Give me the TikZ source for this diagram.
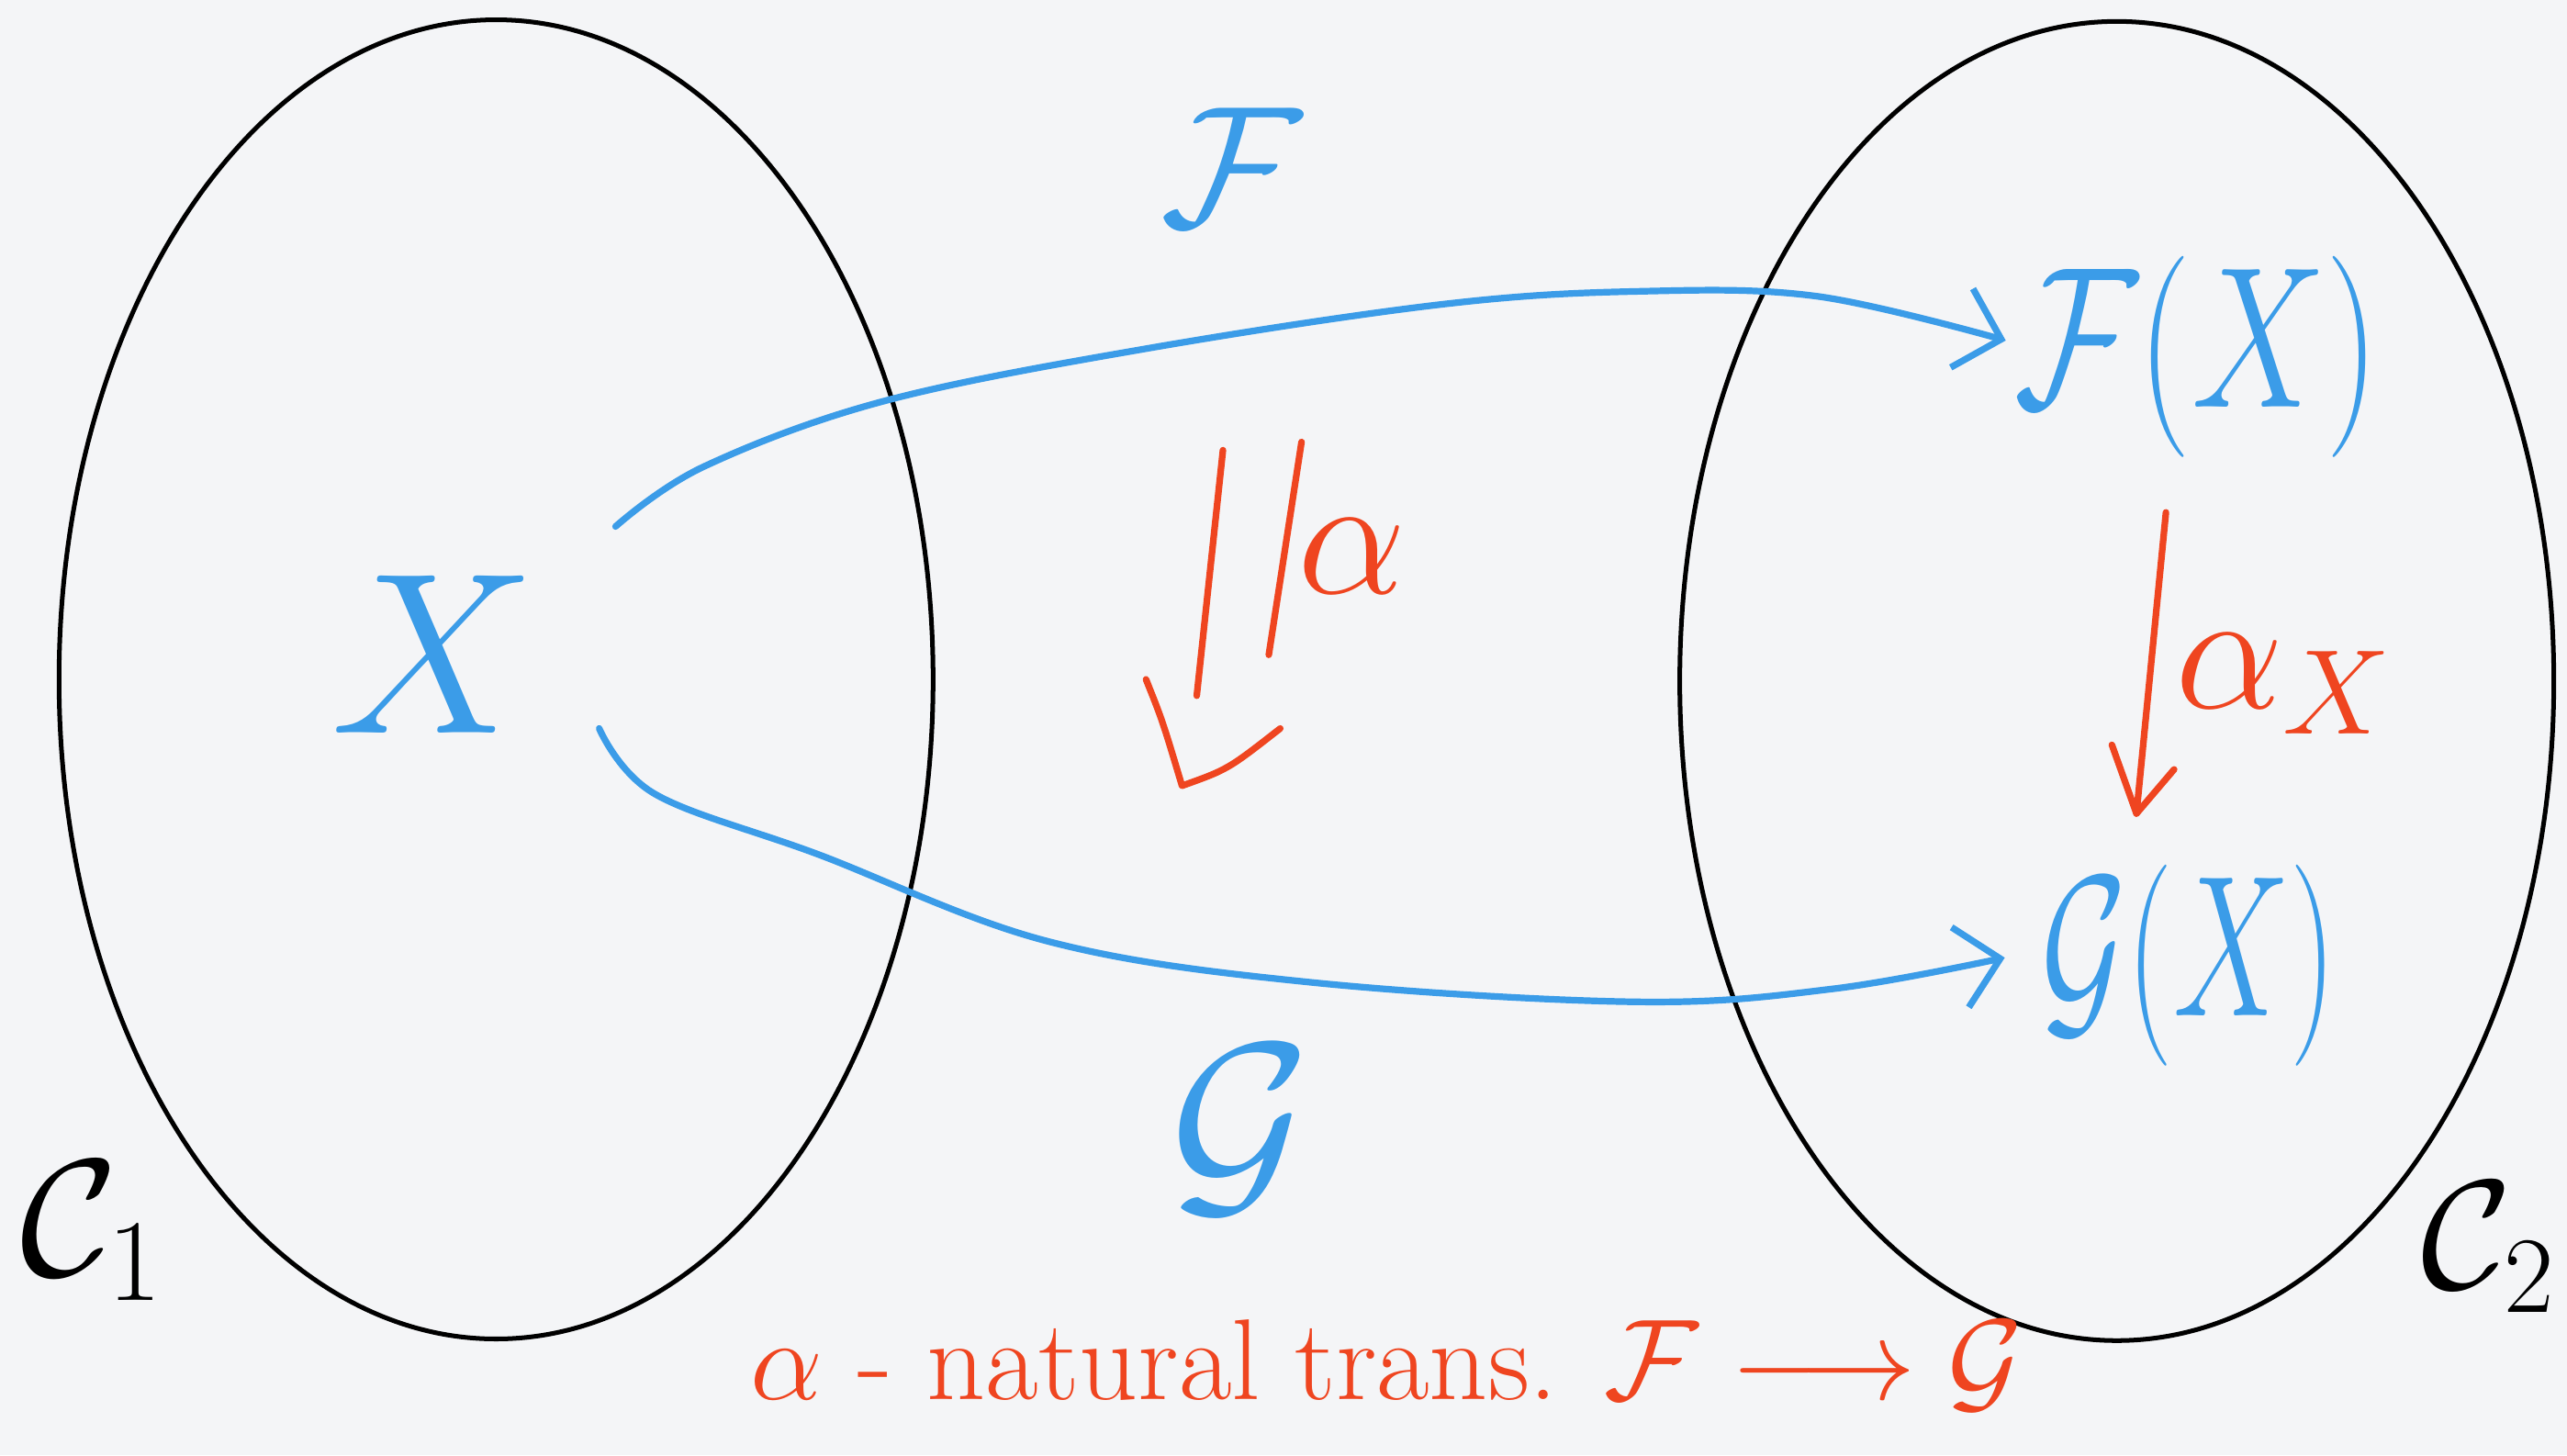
\RequirePackage{fix-cm}
\documentclass[tikz,border=0pt]{standalone}
\usepackage{graphicx}
\usetikzlibrary{arrows.meta,shapes.geometric}
\definecolor{bg}{HTML}{F4F5F7}
\definecolor{hblue}{HTML}{3B9CE8}
\definecolor{hred}{HTML}{EF4520}
\begin{document}
\begin{tikzpicture}[x=0.02cm,y=-0.02cm,
  setbox/.style={draw=black, line width=1.6pt, ellipse, inner sep=0pt,
    minimum width=10.68cm, minimum height=16.12cm},
  bluetxt/.style={text=hblue, inner sep=0pt},
  redtxt/.style={text=hred, inner sep=0pt},
  blacktxt/.style={text=black, inner sep=0pt},
  bluearr/.style={draw=hblue, line width=2.3pt, line cap=round,
    -{Straight Barb[length=0.5cm,width=1.0cm]}},
  redline/.style={draw=hred, line width=2.3pt, line cap=round, line join=round}]
\fill[bg] (0,0) rectangle (1568,889);
\useasboundingbox (0,0) rectangle (1568,889);

% the two categories
\node[setbox] (C1set) at (303,415) {};
\node[setbox] (C2set) at (1293,416) {};
\node[blacktxt, font=\fontsize{58}{68}\selectfont] (c1) at (56,752) {$\mathcal{C}_1$};
\node[blacktxt, font=\fontsize{54}{64}\selectfont] (c2) at (1520,762) {$\mathcal{C}_2$};

% objects
\node[bluetxt, font=\fontsize{80}{90}\selectfont] (X) at (265,400) {$X$};
\node[bluetxt, font=\fontsize{60}{70}\selectfont] (lF) at (752,102) {$\mathcal{F}$};
\node[bluetxt, font=\fontsize{75}{85}\selectfont] (lG) at (758,690) {$\mathcal{G}$};
\node[bluetxt, font=\fontsize{70}{80}\selectfont] (FX) at (1342,218) {\scalebox{0.75}[1]{$\mathcal{F}(X)$}};
\node[bluetxt, font=\fontsize{70}{80}\selectfont] (GX) at (1337,590) {\scalebox{0.65}[1]{$\mathcal{G}(X)$}};

% functor arrows
\draw[bluearr] plot[smooth, tension=0.6] coordinates {
  ([shift={(48,-30)}]X.north east) (430,285) (540,245) (700,213) (880,186)
  (1000,178) (1110,181) ([shift={(-5,-10)}]FX.west)};
\draw[bluearr] plot[smooth, tension=0.6] coordinates {
  ([shift={(38,45)}]X.east) (400,485) (500,522) (640,575) (800,600)
  (1000,612) (1120,604) ([shift={(-22,-5)}]GX.west)};

% natural transformation alpha (2-cell)
\coordinate (dA1) at (747,275);
\coordinate (dA2) at (731,425);
\coordinate (dB1) at (795,270);
\coordinate (dB2) at (775,400);
\coordinate (dT) at (722,480);
\draw[redline] (dA1) -- (dA2);
\draw[redline] (dB1) -- (dB2);
\draw[redline] (700,415) .. controls (710,440) .. (dT) .. controls (750,470) .. (782,445);
\node[redtxt, font=\fontsize{60}{70}\selectfont] (la) at (826,340) {$\alpha$};

% component alpha_X
\coordinate (ax1) at (1323,313);
\coordinate (ax2) at (1305,497);
\draw[redline] (ax1) -- (ax2);
\draw[redline] (1290,455) -- (ax2) -- (1328,470);
\node[redtxt, font=\fontsize{60}{70}\selectfont] (lax) at (1395,418) {$\alpha_X$};

% caption
\node[redtxt, anchor=base west, font=\fontsize{40}{48}\selectfont] (cap) at (458,855)
  {$\alpha$ - natural trans. $\mathcal{F}\longrightarrow\mathcal{G}$};
\end{tikzpicture}
\end{document}
